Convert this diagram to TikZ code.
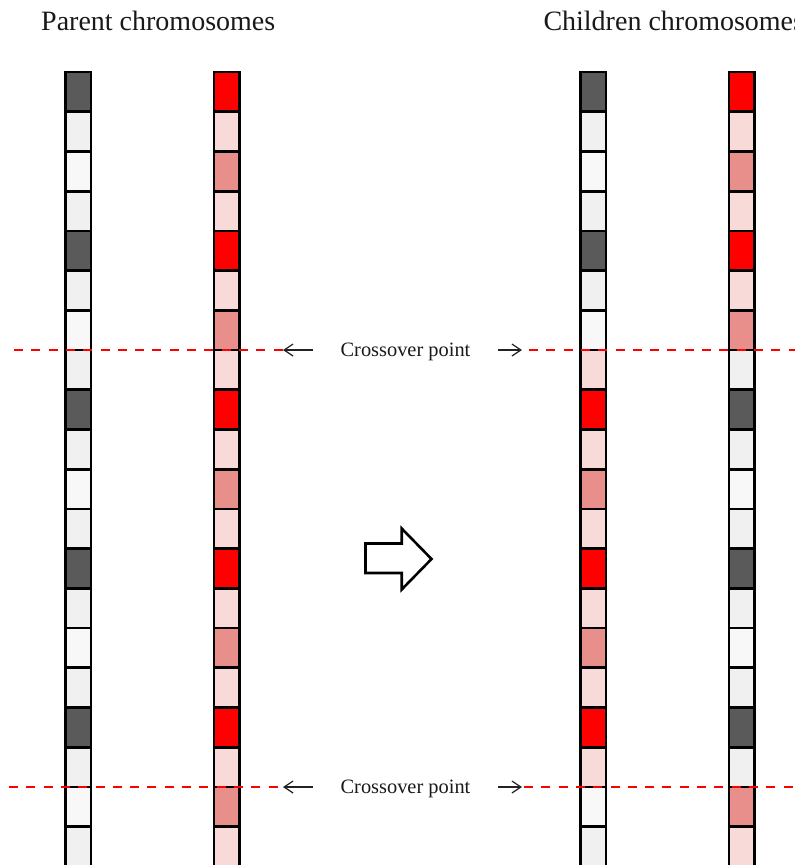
\documentclass[tikz,border=0pt]{standalone}
\usepackage{fontspec}
\setmainfont{Liberation Serif}
\usetikzlibrary{arrows.meta}
\definecolor{gdark}{HTML}{5A5A5A}
\definecolor{glight}{HTML}{F0F0F0}
\definecolor{glighter}{HTML}{F8F8F8}
\definecolor{rred}{HTML}{FF0000}
\definecolor{rpink}{HTML}{F8DBD8}
\definecolor{rmid}{HTML}{E98F8B}
\definecolor{arrgray}{HTML}{222222}
\colorlet{pa0}{gdark}\colorlet{pa1}{glight}\colorlet{pa2}{glighter}\colorlet{pa3}{glight}
\colorlet{pb0}{rred}\colorlet{pb1}{rpink}\colorlet{pb2}{rmid}\colorlet{pb3}{rpink}
\begin{document}
\begin{tikzpicture}[x=1pt,y=-1pt,
  cell/.style={draw=black,line width=2.7pt,minimum width=25.3pt,minimum height=39.72pt,inner sep=0pt,outer sep=0pt},
  title/.style={anchor=base west,inner sep=0pt,font=\fontsize{28}{30}\selectfont,text=black!90},
  cotext/.style={anchor=base,inner sep=0pt,font=\fontsize{20.4}{22}\selectfont,text=black!90},
  cut/.style={draw=rred,line width=2.6pt,dash pattern=on 9pt off 8.3pt},
  smallarr/.style={draw=arrgray,line width=1.2pt,-{Straight Barb[length=9pt,width=12pt]}},
  bigarrow/.style={draw=black,line width=2.6pt,fill=white,line join=miter}]
\useasboundingbox (0,0) rectangle (795,865);
% titles
\node[title] (tp) at (41,30.7) {Parent chromosomes};
\node[title] (tc) at (543.3,30.7) {Children chromosomes};
% chromosomes
\foreach \i in {0,...,19}{
  \pgfmathtruncatemacro\m{mod(\i,4)}
  \pgfmathtruncatemacro\sw{(\i>6)&&(\i<18)}
  \pgfmathsetmacro\yy{72+39.72*(\i+0.5)}
  \node[cell,fill=pa\m] (p1-\i) at (78.4,\yy) {};
  \node[cell,fill=pb\m] (p2-\i) at (226.7,\yy) {};
  \ifnum\sw=1
    \node[cell,fill=pb\m] (c1-\i) at (593.2,\yy) {};
    \node[cell,fill=pa\m] (c2-\i) at (741.5,\yy) {};
  \else
    \node[cell,fill=pa\m] (c1-\i) at (593.2,\yy) {};
    \node[cell,fill=pb\m] (c2-\i) at (741.5,\yy) {};
  \fi
}
% crossover 1
\node[cotext] (x1) at (405.5,356) {Crossover point};
\coordinate (x1ls) at (313,350);
\coordinate (x1lt) at (283,350);
\coordinate (x1rs) at (498,350);
\coordinate (x1rt) at (522,350);
\coordinate (x1a) at (14,350);
\coordinate (x1b) at (529,350);
\coordinate (x1e) at (800,350);
\draw[cut] (x1a) -- (x1lt);
\draw[cut] (x1b) -- (x1e);
\draw[smallarr] (x1ls) -- (x1lt);
\draw[smallarr] (x1rs) -- (x1rt);
% crossover 2
\node[cotext] (x2) at (405.5,793) {Crossover point};
\coordinate (x2ls) at (313,787);
\coordinate (x2lt) at (283,787);
\coordinate (x2rs) at (498,787);
\coordinate (x2rt) at (522,787);
\coordinate (x2a) at (9,787);
\coordinate (x2b) at (524,787);
\coordinate (x2e) at (800,787);
\draw[cut] (x2a) -- (x2lt);
\draw[cut] (x2b) -- (x2e);
\draw[smallarr] (x2ls) -- (x2lt);
\draw[smallarr] (x2rs) -- (x2rt);
% block arrow
\draw[bigarrow] (365.5,543.5) -- (401.7,543.5) -- (401.7,528.5) -- (431.5,559) -- (401.7,589.5) -- (401.7,573) -- (365.5,573) -- cycle;
\end{tikzpicture}
\end{document}
